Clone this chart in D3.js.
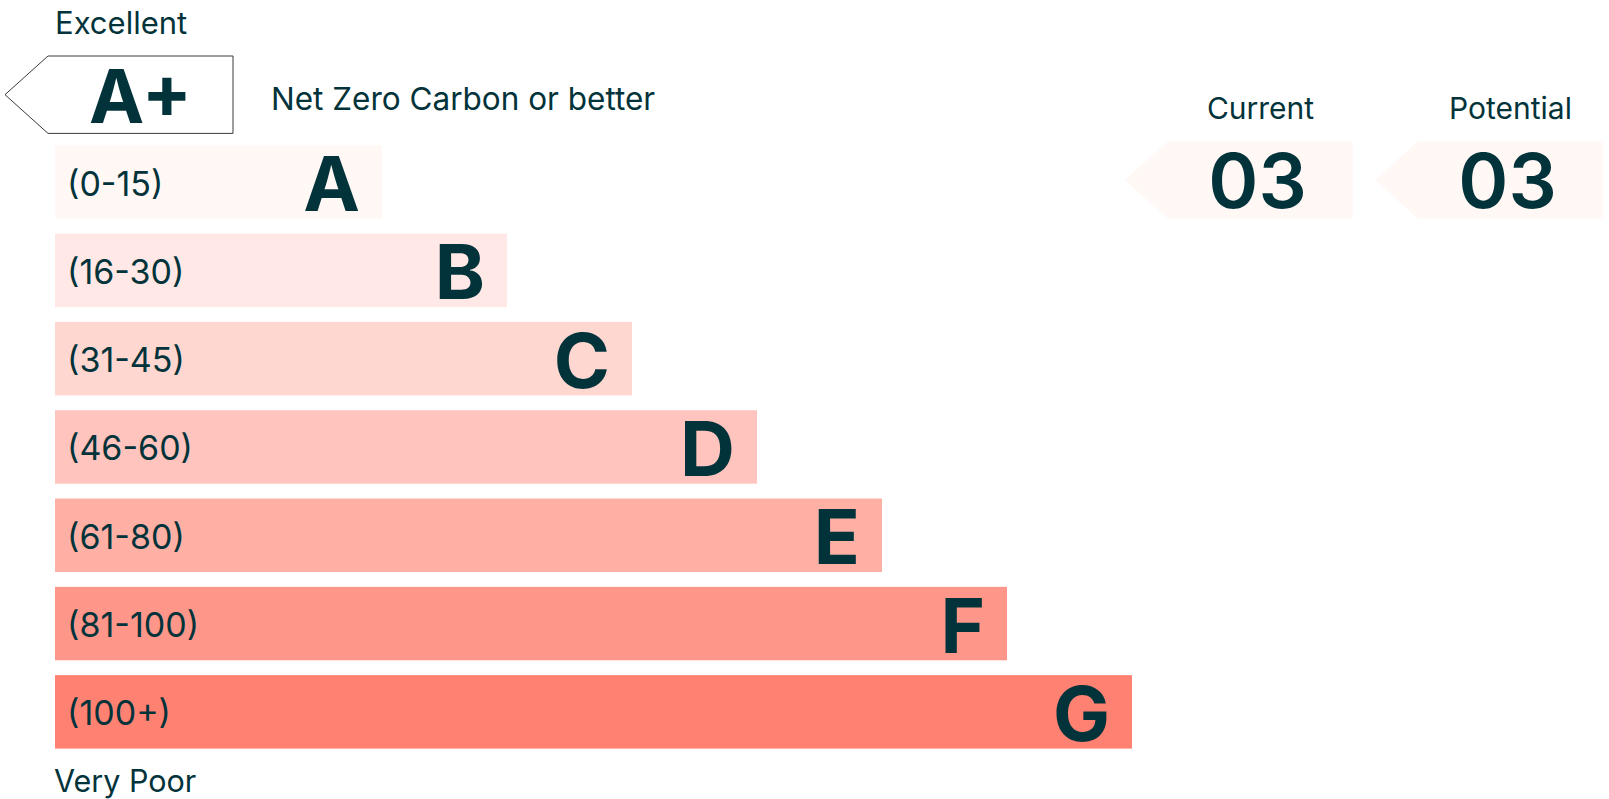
<!DOCTYPE html>
<html>
<head>
<meta charset="utf-8">
<script src="https://cdn.jsdelivr.net/npm/d3@7"></script>
<style>
  html, body { margin: 0; padding: 0; background: #fff; }
  svg { display: block; font-family: Inter, "Noto Sans", sans-serif; }
</style>
</head>
<body>
<svg id="chart" width="1609" height="799"></svg>
<script>
// rating bands, top (best) to bottom (worst)
const ratings = ["A", "B", "C", "D", "E", "F", "G"];
const ranges = ["(0-15)", "(16-30)", "(31-45)", "(46-60)", "(61-80)", "(81-100)", "(100+)"];
const barLength = [1, 2, 3, 4, 5, 6, 7];
const bandColors = ["#fff8f5", "#ffe8e5", "#ffd7d1", "#ffc4bd", "#feb0a5", "#fe978a", "#ff8172"];

// current / potential scores
const scoreLabels = ["Current", "Potential"];
const scoreValues = ["03", "03"];
const scoreRatings = ["A", "A"];

const ink = "#03333a";

const svg = d3.select("#chart");

// scales
const y = d3.scaleBand().domain(ratings).range([145.3, 748.6]).paddingInner(0.168).paddingOuter(0);
const x = d3.scaleLinear().domain([0, 7]).range([257, 1132]);
const x0 = 55;
const sx = d3.scaleBand().domain(scoreLabels).range([1125, 1603]).paddingInner(0.088).paddingOuter(0);
const tip = 43;

// top label
svg.append("text").attr("x", 55).attr("y", 34)
  .attr("font-size", 31).attr("fill", ink).text("Excellent");

// A+ arrow box
const ap = { x1: 5, x2: 233, y1: 56, y2: 133.4 };
svg.append("path")
  .attr("d", d3.line()([
    [ap.x1 + tip, ap.y1], [ap.x2, ap.y1], [ap.x2, ap.y2], [ap.x1 + tip, ap.y2], [ap.x1, (ap.y1 + ap.y2) / 2]
  ]) + "Z")
  .attr("fill", "#fff").attr("stroke", "#3a3a3a").attr("stroke-width", 1);
svg.append("text").attr("x", (ap.x1 + tip + ap.x2) / 2).attr("y", 123)
  .attr("text-anchor", "middle").attr("font-size", 74).attr("font-weight", 650)
  .attr("fill", ink).text("A+");
svg.append("text").attr("x", 271).attr("y", 110)
  .attr("font-size", 31.5).attr("fill", ink).text("Net Zero Carbon or better");

// bars
const rows = svg.selectAll("g.band")
  .data(ratings.map((r, i) => ({ r, range: ranges[i], len: barLength[i], color: bandColors[i] })))
  .join("g").attr("class", "band");

rows.append("rect")
  .attr("x", x0)
  .attr("y", d => y(d.r))
  .attr("width", d => x(d.len) - x0)
  .attr("height", y.bandwidth())
  .attr("fill", d => d.color);

rows.append("text")
  .attr("x", 67)
  .attr("y", d => y(d.r) + y.bandwidth() / 2 + 13.5)
  .attr("font-size", 34).attr("fill", ink)
  .text(d => d.range);

rows.append("text")
  .attr("x", d => x(d.len) - 22)
  .attr("y", d => y(d.r) + y.bandwidth() / 2 + 29)
  .attr("text-anchor", "end")
  .attr("font-size", 76).attr("font-weight", 650).attr("fill", ink)
  .text(d => d.r);

// bottom label
svg.append("text").attr("x", 54).attr("y", 792)
  .attr("font-size", 30.5).attr("fill", ink).text("Very Poor");

// score arrows
const scores = svg.selectAll("g.score")
  .data(scoreLabels.map((s, i) => ({ s, v: scoreValues[i], r: scoreRatings[i] })))
  .join("g").attr("class", "score");

scores.append("path")
  .attr("d", d => {
    const a = sx(d.s), b = a + sx.bandwidth();
    const t = y(d.r) - 4, btm = y(d.r) + y.bandwidth();
    return d3.line()([[a + tip, t], [b, t], [b, btm], [a + tip, btm], [a, (t + btm) / 2]]) + "Z";
  })
  .attr("fill", d => bandColors[ratings.indexOf(d.r)]);

scores.append("text")
  .attr("x", d => sx(d.s) + tip + (sx.bandwidth() - tip) / 2)
  .attr("y", 119)
  .attr("text-anchor", "middle").attr("font-size", 30).attr("fill", ink)
  .text(d => d.s);

scores.append("text")
  .attr("x", d => sx(d.s) + tip + (sx.bandwidth() - tip) / 2 - 3)
  .attr("y", d => y(d.r) + y.bandwidth() / 2 + 26)
  .attr("text-anchor", "middle").attr("font-size", 76).attr("font-weight", 600).attr("fill", ink)
  .text(d => d.v);
</script>
</body>
</html>
